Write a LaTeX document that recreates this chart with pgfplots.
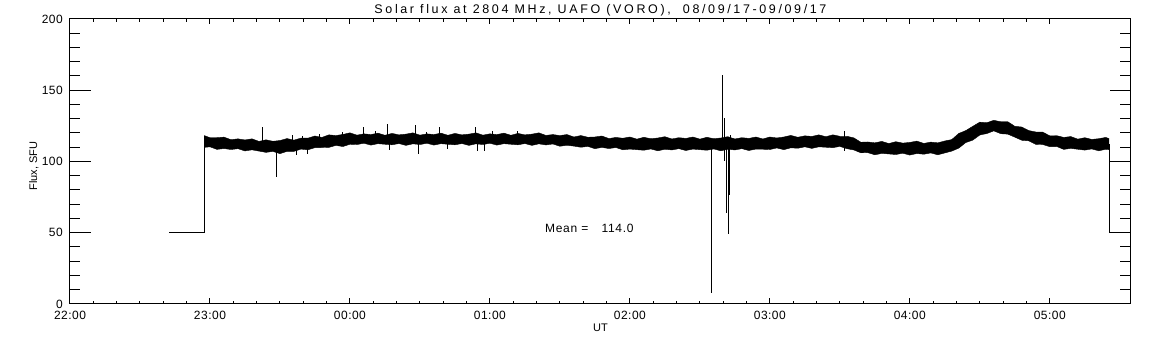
\documentclass[border=0pt]{standalone}
\usepackage{fontspec}
\setmainfont{Liberation Sans}
\usepackage{pgfplots}
\usepackage{pgfplotstable}
\pgfplotsset{compat=1.18}
\usepgfplotslibrary{fillbetween}

\pgfplotstableread{
h top bot
0.959 118.2 109.9
1.00 116.7 110.3
1.05 116.7 108.5
1.10 117.1 109.1
1.15 115.3 108.4
1.20 115.9 109.0
1.25 115.1 107.4
1.30 115.9 108.2
1.35 114.1 107.3
1.40 115.2 106.4
1.45 114.2 107.1
1.50 114.7 105.5
1.55 116.1 107.1
1.60 115.0 107.1
1.65 116.4 108.7
1.70 116.4 108.2
1.75 117.9 109.7
1.80 116.9 109.8
1.85 118.7 109.9
1.90 118.2 111.3
1.95 119.0 110.5
2.00 120.1 112.1
2.05 118.5 111.9
2.10 119.4 112.8
2.15 118.9 111.5
2.20 119.9 112.5
2.25 118.4 112.1
2.30 119.7 111.7
2.35 118.7 112.6
2.40 119.2 111.3
2.45 120.1 112.4
2.50 118.5 111.9
2.55 119.4 112.8
2.60 118.9 111.5
2.65 119.9 112.5
2.70 118.4 112.1
2.75 119.7 111.7
2.80 118.7 112.6
2.85 119.2 111.3
2.90 120.1 112.4
2.95 118.5 111.9
3.00 119.4 112.8
3.05 118.9 111.5
3.10 119.9 112.5
3.15 118.4 112.1
3.20 119.7 111.7
3.25 118.7 112.6
3.30 119.2 111.3
3.35 120.1 112.4
3.40 118.3 111.6
3.45 118.9 112.3
3.50 118.2 110.7
3.55 118.9 111.4
3.60 117.2 110.8
3.65 118.2 110.0
3.70 117.0 110.6
3.75 117.2 109.0
3.80 117.9 109.9
3.85 116.1 109.1
3.90 116.9 109.8
3.95 116.3 108.2
4.00 117.2 108.7
4.05 115.7 108.3
4.10 117.0 107.9
4.15 116.0 108.8
4.20 116.5 107.5
4.25 117.4 108.6
4.30 115.8 108.1
4.35 116.7 109.0
4.40 116.2 107.7
4.45 117.2 108.7
4.50 115.7 108.3
4.55 117.0 107.9
4.60 116.0 108.8
4.65 116.5 107.5
4.70 117.4 108.6
4.75 115.8 108.1
4.80 116.7 109.0
4.85 116.2 107.7
4.90 117.2 108.7
4.95 115.8 108.6
5.00 117.2 108.4
5.05 116.5 109.5
5.10 117.2 108.3
5.15 118.3 109.6
5.20 117.0 109.3
5.25 118.0 110.3
5.30 117.6 109.2
5.35 118.7 110.3
5.40 117.4 110.0
5.45 118.7 109.7
5.50 117.7 110.6
5.55 117.7 109.0
5.60 116.6 108.1
5.65 113.5 106.1
5.70 113.7 106.2
5.75 113.1 104.7
5.80 114.1 105.7
5.85 112.6 105.3
5.90 113.9 104.9
5.95 112.9 105.8
6.00 113.4 104.5
6.05 114.3 105.6
6.10 112.7 105.1
6.15 113.6 106.0
6.20 113.1 104.7
6.25 114.4 106.0
6.30 115.4 107.3
6.35 119.7 109.4
6.40 121.7 113.3
6.45 124.7 115.0
6.50 127.6 118.6
6.55 127.2 119.6
6.60 128.9 121.5
6.65 127.9 119.5
6.70 127.9 119.2
6.75 124.7 117.1
6.80 124.2 114.9
6.85 121.7 114.5
6.90 120.7 112.0
6.95 120.6 111.9
7.00 118.0 110.4
7.05 118.1 110.5
7.10 116.9 108.5
7.15 117.5 109.2
7.20 115.7 108.6
7.25 116.7 108.0
7.30 115.5 108.8
7.35 116.0 107.5
7.40 116.9 108.6
7.424 116.0 108.3
}\band

\begin{document}
\begin{tikzpicture}
\begin{axis}[
  at={(0pt,0pt)}, anchor=south west,
  scale only axis, width=1061pt, height=285pt,
  xmin=0, xmax=7.58, ymin=0, ymax=200,
  axis line style={line width=1pt},
  every tick/.style={black, line width=1pt},
  tick align=inside,
  xtick={0,1,2,3,4,5,6,7},
  xticklabels={22:00,23:00,00:00,01:00,02:00,03:00,04:00,05:00},
  minor x tick num=5,
  ytick=\empty,
  major tick length=5.5pt, minor tick length=2.7pt,
  tick label style={font=\fontsize{12}{12}\selectfont\addfontfeatures{LetterSpace=4}},
  /pgf/number format/assume math mode=true,
  xticklabel style={inner sep=0pt, yshift=-7pt},
  xlabel={UT},
  xlabel style={at={(axis description cs:0.5,-0.0842)}, anchor=center, font=\fontsize{11}{11}\selectfont},
  unbounded coords=jump,
  clip mode=individual,
]
\addplot[black, line width=1pt] coordinates {(0.709,50) (0.959,50) (0.959,114)};
\addplot[black, line width=1pt] coordinates {(7.424,112) (7.424,50) (7.8,50)};
\addplot[name path=T, black, line width=0.4pt] table[x=h, y=top] {\band};
\addplot[name path=B, black, line width=0.4pt] table[x=h, y=bot] {\band};
\addplot[black] fill between[of=T and B];
\addplot[black, line width=1pt] coordinates {
(1.376,112) (1.376,124.4) (1.376,nan)
(1.474,109) (1.474,89.3) (1.474,nan)
(1.59,112) (1.59,118.6) (1.59,nan)
(1.62,110) (1.62,104.6) (1.62,nan)
(1.66,112) (1.66,118.2) (1.66,nan)
(1.70,111) (1.70,105.5) (1.70,nan)
(1.78,113) (1.78,119.5) (1.78,nan)
(1.95,114) (1.95,121.0) (1.95,nan)
(2.095,116) (2.095,124.0) (2.095,nan)
(2.18,116) (2.18,121.5) (2.18,nan)
(2.266,116) (2.266,126.3) (2.266,nan)
(2.28,114) (2.28,108.0) (2.28,nan)
(2.466,116) (2.466,125.8) (2.466,nan)
(2.488,113) (2.488,105.0) (2.488,nan)
(2.55,116) (2.55,121.0) (2.55,nan)
(2.643,116) (2.643,124.4) (2.643,nan)
(2.70,114) (2.70,109.0) (2.70,nan)
(2.90,116) (2.90,124.0) (2.90,nan)
(2.912,113) (2.912,107.4) (2.912,nan)
(2.959,113) (2.959,107.4) (2.959,nan)
(3.02,116) (3.02,121.5) (3.02,nan)
(3.20,116) (3.20,121.2) (3.20,nan)
(4.581,112) (4.581,7.5) (4.581,nan)
(4.659,112) (4.659,160.7) (4.659,nan)
(4.674,100.6) (4.674,130.3) (4.674,nan)
(4.688,112) (4.688,64.1) (4.688,nan)
(4.702,112) (4.702,48.9) (4.702,nan)
(4.709,112) (4.709,76.5) (4.709,nan)
(4.716,112) (4.716,118.3) (4.716,nan)
(5.536,107.4) (5.536,121.4)
};
\node[anchor=base west, inner sep=0pt, font=\fontsize{12}{12}\selectfont\addfontfeatures{LetterSpace=6}] at (axis cs:3.393,50) {Mean =\hspace{1.1em}114.0};
\node[anchor=base, inner sep=0pt, font=\fontsize{12.5}{12.5}\selectfont\addfontfeatures{LetterSpace=21}] at (axis description cs:0.5,1.0204) {Solar flux at 2804 MHz, UAFO (VORO),\ \ 08/09/17-09/09/17};
\end{axis}
\begin{axis}[
  at={(0pt,0pt)}, anchor=south west,
  scale only axis, width=1061pt, height=285pt,
  xmin=0, xmax=7.58, ymin=0, ymax=200,
  axis line style={line width=1pt},
  every tick/.style={black, line width=1pt},
  tick align=inside,
  xtick=\empty,
  ytick={0,50,100,150,200},
  minor y tick num=4,
  major tick length=21pt, minor tick length=10.5pt,
  tick label style={font=\fontsize{12}{12}\selectfont\addfontfeatures{LetterSpace=4}},
  /pgf/number format/assume math mode=true,
  yticklabel style={inner sep=0pt, xshift=-7pt},
  ylabel={Flux, SFU},
  ylabel style={at={(axis description cs:-0.034,0.484)}, anchor=center, font=\fontsize{11}{11}\selectfont},
]
\addplot[draw=none] coordinates {(1,1)};
\end{axis}
\pgfresetboundingbox
\path[use as bounding box] (-70pt,-41pt) rectangle (1082pt,304pt);
\end{tikzpicture}
\end{document}
